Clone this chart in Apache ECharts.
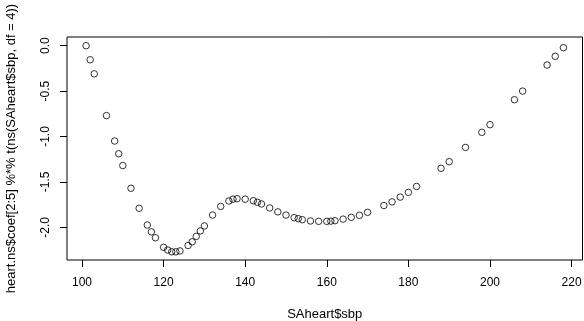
<!DOCTYPE html>
<html>
<head>
<meta charset="utf-8">
<script src="https://cdn.jsdelivr.net/npm/echarts@6/dist/echarts.min.js"></script>
<style>html,body{margin:0;padding:0;background:#fff}#c{width:584px;height:321px}</style>
</head>
<body>
<div id="c"></div>
<script>
const sbp = [101,102,103,106,108,109,110,112,114,116,117,118,120,121,122,123,124,126,127,128,129,130,132,134,136,137,138,140,142,143,144,146,148,150,152,153,154,156,158,160,161,162,164,166,168,170,174,176,178,180,182,188,190,194,198,200,206,208,214,216,218];
const fit = [0.00,-0.155,-0.31,-0.77,-1.05,-1.19,-1.32,-1.57,-1.79,-1.975,-2.05,-2.115,-2.22,-2.25,-2.27,-2.27,-2.26,-2.20,-2.16,-2.10,-2.04,-1.985,-1.865,-1.77,-1.71,-1.69,-1.685,-1.69,-1.707,-1.725,-1.743,-1.787,-1.83,-1.865,-1.894,-1.905,-1.916,-1.93,-1.934,-1.934,-1.932,-1.927,-1.91,-1.89,-1.868,-1.835,-1.76,-1.72,-1.667,-1.615,-1.55,-1.35,-1.277,-1.12,-0.954,-0.87,-0.595,-0.50,-0.213,-0.117,-0.022];
const xTicks = [100,120,140,160,180,200,220];
const yTicks = [0,-0.5,-1,-1.5,-2];
const xTitle = 'SAheart$sbp';
const yTitle = 'heart.ns$coef[2:5] %*% t(ns(SAheart$sbp, df = 4))';

const font = "'Liberation Sans', Arial, sans-serif";
const chart = echarts.init(document.getElementById('c'), null, {renderer:'canvas'});
chart.setOption({
  animation:false,
  backgroundColor:'#fff',
  grid:{left:67,top:37,width:515.5,height:223,show:true,borderColor:'#000',borderWidth:1,backgroundColor:'transparent',
    containLabel:false,outerBoundsMode:'none'},
  xAxis:{type:'value',min:96.32,max:222.68,
    axisLine:{show:false,onZero:false},splitLine:{show:false},
    axisTick:{show:true,customValues:xTicks,length:7,lineStyle:{color:'#000',width:1}},
    axisLabel:{customValues:xTicks,fontSize:12,color:'#000',fontFamily:font,margin:17},
    name:xTitle,nameLocation:'middle',nameGap:48,nameTextStyle:{fontSize:13,color:'#000',fontFamily:font}
  },
  yAxis:{type:'value',min:-2.36,max:0.0958,
    axisLine:{show:false,onZero:false},splitLine:{show:false},
    axisTick:{show:true,customValues:yTicks,length:7,lineStyle:{color:'#000',width:1}},
    axisLabel:{customValues:yTicks,rotate:90,fontSize:12,color:'#000',fontFamily:font,margin:15,
      align:'center',verticalAlign:'bottom',formatter:v=>v.toFixed(1)},
    name:yTitle,nameLocation:'middle',nameGap:49,nameTextStyle:{fontSize:13,color:'#000',fontFamily:font}
  },
  series:[{type:'scatter',data:sbp.map((x,i)=>[x,fit[i]]),symbol:'circle',symbolSize:6.5,
    itemStyle:{color:'transparent',borderColor:'#000',borderWidth:1},emphasis:{disabled:true}}]
});
</script>
</body>
</html>
